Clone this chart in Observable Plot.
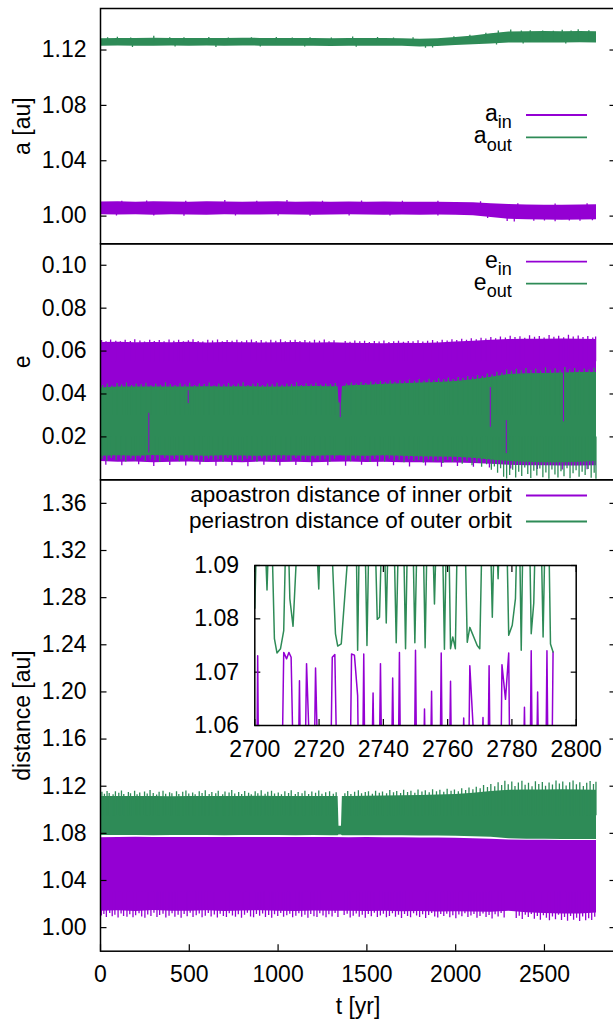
<!DOCTYPE html>
<html><head><meta charset="utf-8">
<script src="https://cdn.jsdelivr.net/npm/d3@7"></script>
<script src="https://cdn.jsdelivr.net/npm/@observablehq/plot@0.6"></script>
<style>
html,body{margin:0;padding:0;background:#fff;}
#wrap{position:relative;width:613px;height:1020px;overflow:hidden;background:#fff;}
#wrap > div{position:absolute;left:0;}
</style></head><body><div id="wrap"></div>
<script>
const PURPLE = "#9400d3", GREEN = "#2e8b57";
const FONT = '"Liberation Sans", Arial, Helvetica, sans-serif';

// ---------- tick values & labels ----------
const xTicks = [0, 500, 1000, 1500, 2000, 2500];
const p1Ticks = [1.00, 1.04, 1.08, 1.12];
const p2Ticks = [0.02, 0.04, 0.06, 0.08, 0.10];
const p3Ticks = [1.00, 1.04, 1.08, 1.12, 1.16, 1.20, 1.24, 1.28, 1.32, 1.36];
const insetXTicks = [2700, 2720, 2740, 2760, 2780, 2800];
const insetYTicks = [1.06, 1.07, 1.08, 1.09];
const yLabels = ["a [au]", "e", "distance [au]"];
const xLabel = "t [yr]";
const legendMain = ["a", "a", "e", "e", "apoastron distance of inner orbit", "periastron distance of outer orbit"];
const legendSub = ["in", "out", "in", "out", null, null];

// ---------- panel 1: semi-major axes, bands [t, low, high] ----------
const aInBand = [[0,1.0010,1.0102],[100,1.0008,1.0103],[200,1.0009,1.0101],[300,1.0007,1.0103],[400,1.0009,1.0102],[500,1.0008,1.0101],[600,1.0007,1.0103],[700,1.0009,1.0102],[800,1.0008,1.0101],[900,1.0008,1.0102],[1000,1.0009,1.0103],[1100,1.0008,1.0101],[1200,1.0007,1.0102],[1300,1.0008,1.0101],[1400,1.0009,1.0102],[1500,1.0008,1.0101],[1600,1.0007,1.0102],[1700,1.0008,1.0101],[1800,1.0007,1.0100],[1900,1.0008,1.0100],[2000,1.0006,1.0099],[2100,1.0002,1.0096],[2200,0.9990,1.0090],[2300,0.9978,1.0084],[2400,0.9974,1.0080],[2500,0.9972,1.0079],[2600,0.9970,1.0079],[2700,0.9972,1.0080],[2793,0.9974,1.0082]];
const aOutBand = [[0,1.1228,1.1282],[100,1.1229,1.1284],[200,1.1227,1.1283],[300,1.1228,1.1285],[400,1.1229,1.1283],[500,1.1228,1.1283],[600,1.1229,1.1283],[700,1.1227,1.1284],[800,1.1229,1.1285],[900,1.1228,1.1284],[1000,1.1228,1.1283],[1100,1.1227,1.1283],[1200,1.1228,1.1283],[1300,1.1226,1.1282],[1400,1.1227,1.1283],[1500,1.1228,1.1284],[1600,1.1228,1.1283],[1700,1.1227,1.1282],[1800,1.1222,1.1277],[1900,1.1226,1.1281],[2000,1.1232,1.1290],[2100,1.1238,1.1302],[2200,1.1244,1.1318],[2300,1.1250,1.1330],[2400,1.1250,1.1332],[2500,1.1251,1.1333],[2600,1.1250,1.1332],[2700,1.1252,1.1334],[2793,1.1250,1.1332]];
const aOutTopSpikes = [[40,1.1288],[95,1.1292],[170,1.1287],[300,1.1300],[390,1.1288],[470,1.1289],[610,1.1291],[720,1.1287],[850,1.1289],[990,1.1290],[1080,1.1287],[1180,1.1289],[1300,1.1286],[1420,1.1294],[1560,1.1291],[1650,1.1287],[1760,1.1288],[1990,1.1295],[2080,1.1306],[2170,1.1322],[2240,1.1338],[2310,1.1344],[2370,1.1337],[2420,1.1340],[2490,1.1338],[2550,1.1336],[2600,1.1342],[2650,1.1337],[2690,1.1346],[2750,1.1339]];
const aOutBotSpikes = [[180,1.1218],[420,1.1221],[650,1.1219],[900,1.1222],[1150,1.1221],[1440,1.1220],[1830,1.1212],[1870,1.1214],[2230,1.1236],[2380,1.1244],[2620,1.1243]];
const aInTopSpikes = [[120,1.0108],[260,1.0110],[480,1.0108],[700,1.0112],[880,1.0108],[1050,1.0112],[1250,1.0108],[1470,1.0110],[1700,1.0108],[1900,1.0108],[2140,1.0104],[2350,1.0090],[2560,1.0088],[2740,1.0090]];
const aInBotSpikes = [[90,1.0000],[300,1.0001],[470,0.9999],[760,1.0001],[1000,1.0000],[1180,0.9999],[1400,1.0001],[1630,1.0000],[1900,1.0001],[2180,0.9982],[2290,0.9962],[2330,0.9958],[2440,0.9963],[2500,0.9965],[2560,0.9960],[2640,0.9964],[2700,0.9963],[2770,0.9966]];

// ---------- panel 2: eccentricities ----------
const eInBand = [[0,0.0085,0.0640],[100,0.0082,0.0641],[200,0.0083,0.0639],[300,0.0080,0.0640],[400,0.0082,0.0639],[500,0.0083,0.0641],[600,0.0081,0.0638],[700,0.0082,0.0640],[800,0.0080,0.0639],[900,0.0083,0.0638],[1000,0.0081,0.0639],[1100,0.0082,0.0640],[1200,0.0080,0.0638],[1300,0.0082,0.0639],[1400,0.0083,0.0636],[1500,0.0081,0.0635],[1600,0.0082,0.0634],[1700,0.0080,0.0636],[1800,0.0079,0.0635],[1900,0.0078,0.0638],[2000,0.0078,0.0642],[2100,0.0076,0.0646],[2200,0.0072,0.0650],[2300,0.0068,0.0654],[2400,0.0066,0.0655],[2500,0.0065,0.0655],[2600,0.0064,0.0656],[2700,0.0064,0.0655],[2793,0.0066,0.0654]];
const eOutBand = [[0,0.0110,0.0428],[100,0.0112,0.0432],[200,0.0110,0.0433],[300,0.0113,0.0432],[400,0.0111,0.0433],[500,0.0112,0.0432],[600,0.0110,0.0434],[700,0.0112,0.0433],[800,0.0111,0.0434],[900,0.0110,0.0433],[1000,0.0112,0.0433],[1100,0.0111,0.0434],[1200,0.0110,0.0435],[1300,0.0112,0.0434],[1338,0.0111,0.0434],[1343,0.0112,0.0358],[1357,0.0112,0.0358],[1362,0.0111,0.0435],[1400,0.0111,0.0438],[1500,0.0110,0.0441],[1600,0.0112,0.0445],[1700,0.0110,0.0448],[1800,0.0108,0.0451],[1900,0.0106,0.0454],[2000,0.0105,0.0458],[2100,0.0100,0.0466],[2200,0.0092,0.0478],[2300,0.0085,0.0491],[2400,0.0082,0.0494],[2500,0.0080,0.0496],[2600,0.0080,0.0498],[2700,0.0082,0.0500],[2793,0.0085,0.0500]];
const eInTopSpikes = [[6,0.0649],[31,0.0644],[57,0.0652],[86,0.0646],[112,0.0643],[139,0.0650],[168,0.0645],[193,0.0653],[222,0.0647],[248,0.0642],[277,0.0651],[303,0.0645],[331,0.0649],[358,0.0643],[386,0.0652],[413,0.0646],[440,0.0650],[467,0.0644],[495,0.0648],[521,0.0653],[550,0.0645],[576,0.0642],[604,0.0650],[631,0.0647],[659,0.0652],[686,0.0644],[713,0.0649],[741,0.0646],[768,0.0651],[795,0.0643],[823,0.0648],[850,0.0652],[877,0.0645],[905,0.0649],[932,0.0642],[959,0.0650],[987,0.0646],[1014,0.0653],[1041,0.0644],[1069,0.0648],[1096,0.0651],[1123,0.0645],[1151,0.0649],[1178,0.0643],[1205,0.0650],[1233,0.0646],[1260,0.0652],[1287,0.0644],[1315,0.0648],[1378,0.0645],[1405,0.0641],[1432,0.0647],[1460,0.0643],[1487,0.0646],[1514,0.0640],[1542,0.0645],[1569,0.0642],[1596,0.0647],[1624,0.0640],[1651,0.0644],[1678,0.0646],[1706,0.0641],[1733,0.0645],[1760,0.0643],[1788,0.0648],[1815,0.0642],[1842,0.0646],[1870,0.0649],[1897,0.0644],[1924,0.0650],[1952,0.0647],[1979,0.0653],[2006,0.0649],[2034,0.0655],[2061,0.0651],[2088,0.0657],[2116,0.0653],[2143,0.0660],[2170,0.0656],[2198,0.0663],[2225,0.0658],[2252,0.0666],[2280,0.0661],[2307,0.0669],[2334,0.0663],[2362,0.0667],[2389,0.0660],[2416,0.0671],[2444,0.0664],[2471,0.0668],[2498,0.0661],[2526,0.0673],[2553,0.0665],[2580,0.0669],[2608,0.0662],[2635,0.0674],[2662,0.0666],[2690,0.0670],[2717,0.0663],[2744,0.0668],[2772,0.0661],[2788,0.0666]];
const eInBotSpikes = [[30,0.0068],[120,0.0065],[215,0.0070],[300,0.0062],[390,0.0067],[480,0.0064],[560,0.0069],[650,0.0063],[740,0.0066],[830,0.0061],[920,0.0068],[1010,0.0064],[1100,0.0067],[1190,0.0062],[1280,0.0066],[1380,0.0063],[1470,0.0068],[1560,0.0061],[1650,0.0065],[1740,0.0060],[1830,0.0064],[1920,0.0059],[2010,0.0062],[2100,0.0058],[2190,0.0055],[2310,0.0050],[2460,0.0048],[2600,0.0046],[2740,0.0047]];
const eOutTopSpikes = [[12,0.0440],[38,0.0446],[64,0.0437],[93,0.0449],[119,0.0442],[146,0.0451],[175,0.0439],[201,0.0447],[229,0.0443],[256,0.0450],[284,0.0438],[311,0.0446],[338,0.0441],[366,0.0452],[393,0.0444],[420,0.0439],[448,0.0448],[475,0.0442],[502,0.0450],[530,0.0440],[557,0.0447],[584,0.0444],[612,0.0451],[639,0.0438],[666,0.0446],[694,0.0442],[721,0.0449],[748,0.0441],[776,0.0447],[803,0.0452],[830,0.0440],[858,0.0445],[885,0.0449],[912,0.0439],[940,0.0446],[967,0.0443],[994,0.0450],[1022,0.0441],[1049,0.0447],[1076,0.0444],[1104,0.0452],[1131,0.0440],[1158,0.0448],[1186,0.0443],[1213,0.0450],[1240,0.0442],[1268,0.0447],[1295,0.0444],[1322,0.0449],[1385,0.0446],[1412,0.0451],[1440,0.0447],[1467,0.0454],[1494,0.0449],[1522,0.0456],[1549,0.0451],[1576,0.0458],[1604,0.0452],[1631,0.0461],[1658,0.0455],[1686,0.0463],[1713,0.0457],[1740,0.0465],[1768,0.0459],[1795,0.0467],[1822,0.0461],[1850,0.0469],[1877,0.0463],[1904,0.0471],[1932,0.0466],[1959,0.0474],[1986,0.0468],[2014,0.0477],[2041,0.0472],[2068,0.0481],[2096,0.0476],[2123,0.0486],[2150,0.0482],[2178,0.0493],[2205,0.0489],[2232,0.0501],[2260,0.0497],[2287,0.0512],[2314,0.0506],[2342,0.0515],[2369,0.0508],[2396,0.0519],[2424,0.0510],[2451,0.0516],[2478,0.0507],[2506,0.0521],[2533,0.0511],[2560,0.0518],[2588,0.0509],[2615,0.0523],[2642,0.0513],[2670,0.0519],[2697,0.0510],[2724,0.0517],[2752,0.0512],[2779,0.0520]];
const eOutBotSpikes = [[9,0.0095],[35,0.0086],[61,0.0099],[88,0.0089],[116,0.0093],[142,0.0083],[171,0.0097],[197,0.0088],[225,0.0101],[252,0.0085],[280,0.0094],[307,0.0090],[333,0.0082],[362,0.0098],[389,0.0087],[416,0.0095],[444,0.0084],[471,0.0092],[498,0.0100],[526,0.0086],[553,0.0091],[580,0.0083],[608,0.0097],[635,0.0089],[662,0.0094],[690,0.0082],[717,0.0099],[744,0.0087],[772,0.0092],[799,0.0085],[826,0.0096],[854,0.0090],[881,0.0083],[908,0.0098],[936,0.0088],[963,0.0093],[990,0.0081],[1018,0.0096],[1045,0.0089],[1072,0.0085],[1100,0.0099],[1127,0.0087],[1154,0.0092],[1182,0.0083],[1209,0.0097],[1236,0.0088],[1264,0.0094],[1291,0.0082],[1318,0.0096],[1381,0.0090],[1408,0.0084],[1436,0.0097],[1463,0.0087],[1490,0.0093],[1518,0.0081],[1545,0.0095],[1572,0.0088],[1600,0.0083],[1627,0.0096],[1654,0.0086],[1682,0.0091],[1709,0.0080],[1736,0.0094],[1764,0.0085],[1791,0.0089],[1818,0.0078],[1846,0.0092],[1873,0.0083],[1900,0.0088],[1928,0.0076],[1955,0.0090],[1982,0.0081],[2010,0.0086],[2037,0.0072],[2064,0.0084],[2092,0.0066],[2119,0.0078],[2146,0.0058],[2174,0.0070],[2201,0.0045],[2218,0.0060],[2236,0.0030],[2253,0.0052],[2270,0.0012],[2287,0.0004],[2304,0.0020],[2321,0.0045],[2338,0.0008],[2355,0.0035],[2372,0.0015],[2389,0.0055],[2406,0.0025],[2423,0.0006],[2440,0.0040],[2457,0.0018],[2474,0.0050],[2491,0.0010],[2508,0.0032],[2525,0.0003],[2542,0.0046],[2559,0.0022],[2576,0.0008],[2593,0.0038],[2610,0.0014],[2627,0.0052],[2644,0.0005],[2661,0.0028],[2678,0.0042],[2695,0.0012],[2712,0.0035],[2729,0.0020],[2746,0.0048],[2763,0.0007],[2780,0.0030],[2790,0.0002]];
const eInThroughOut = [[272,0.0125,0.0310],[494,0.0355,0.0415],[1350,0.0290,0.0360],[2195,0.0245,0.0430],[2285,0.0122,0.0276],[2607,0.0270,0.0510]];

// ---------- panel 3: apoastron / periastron distances ----------
const apoBand = [[0,1.0140,1.0763],[100,1.0143,1.0765],[200,1.0137,1.0766],[300,1.0145,1.0764],[400,1.0140,1.0765],[500,1.0139,1.0764],[600,1.0143,1.0765],[700,1.0137,1.0764],[800,1.0141,1.0765],[900,1.0143,1.0764],[1000,1.0139,1.0764],[1100,1.0137,1.0765],[1200,1.0141,1.0764],[1300,1.0139,1.0764],[1400,1.0140,1.0763],[1500,1.0137,1.0764],[1600,1.0139,1.0763],[1700,1.0135,1.0762],[1800,1.0137,1.0761],[1900,1.0133,1.0760],[2000,1.0135,1.0758],[2100,1.0133,1.0755],[2200,1.0130,1.0750],[2300,1.0140,1.0744],[2400,1.0127,1.0742],[2500,1.0120,1.0741],[2600,1.0115,1.0740],[2700,1.0115,1.0740],[2793,1.0125,1.0739]];
const periBand = [[0,1.0782,1.1112],[100,1.0781,1.1113],[200,1.0782,1.1112],[300,1.0780,1.1113],[400,1.0782,1.1111],[500,1.0781,1.1112],[600,1.0782,1.1113],[700,1.0780,1.1112],[800,1.0781,1.1113],[900,1.0782,1.1114],[1000,1.0781,1.1113],[1100,1.0780,1.1112],[1200,1.0781,1.1113],[1300,1.0780,1.1112],[1338,1.0780,1.1112],[1343,1.0785,1.0860],[1357,1.0785,1.0860],[1362,1.0780,1.1112],[1400,1.0780,1.1113],[1500,1.0780,1.1115],[1600,1.0779,1.1116],[1700,1.0779,1.1119],[1800,1.0778,1.1122],[1900,1.0778,1.1125],[2000,1.0776,1.1130],[2100,1.0772,1.1140],[2200,1.0766,1.1155],[2300,1.0754,1.1165],[2400,1.0750,1.1168],[2500,1.0749,1.1168],[2600,1.0748,1.1170],[2700,1.0748,1.1168],[2793,1.0748,1.1165]];
const apoBotSpikes = [[5,1.0098],[19,1.0112],[33,1.0085],[52,1.0120],[66,1.0092],[81,1.0105],[99,1.0081],[116,1.0116],[130,1.0095],[149,1.0088],[165,1.0110],[183,1.0083],[198,1.0101],[217,1.0118],[232,1.0090],[250,1.0079],[266,1.0108],[284,1.0094],[301,1.0121],[318,1.0086],[333,1.0103],[352,1.0113],[368,1.0082],[386,1.0097],[403,1.0117],[419,1.0089],[437,1.0106],[454,1.0080],[471,1.0111],[488,1.0093],[505,1.0122],[521,1.0087],[539,1.0100],[556,1.0115],[572,1.0084],[590,1.0096],[607,1.0119],[623,1.0090],[641,1.0107],[658,1.0081],[674,1.0113],[692,1.0095],[709,1.0085],[725,1.0118],[743,1.0099],[760,1.0088],[776,1.0110],[794,1.0079],[811,1.0104],[827,1.0121],[845,1.0091],[862,1.0083],[878,1.0112],[896,1.0097],[913,1.0116],[929,1.0086],[947,1.0102],[964,1.0080],[980,1.0109],[998,1.0094],[1015,1.0120],[1031,1.0088],[1049,1.0101],[1066,1.0114],[1082,1.0083],[1100,1.0096],[1117,1.0118],[1133,1.0089],[1151,1.0106],[1168,1.0079],[1184,1.0112],[1202,1.0093],[1219,1.0087],[1235,1.0117],[1253,1.0098],[1270,1.0084],[1286,1.0110],[1304,1.0091],[1321,1.0119],[1337,1.0085],[1372,1.0103],[1389,1.0113],[1406,1.0082],[1423,1.0097],[1440,1.0116],[1457,1.0088],[1474,1.0105],[1491,1.0080],[1508,1.0111],[1525,1.0092],[1542,1.0121],[1559,1.0086],[1576,1.0099],[1593,1.0114],[1610,1.0083],[1627,1.0095],[1644,1.0118],[1661,1.0089],[1678,1.0106],[1695,1.0078],[1712,1.0112],[1729,1.0094],[1746,1.0084],[1763,1.0117],[1780,1.0098],[1797,1.0086],[1814,1.0109],[1831,1.0077],[1848,1.0103],[1865,1.0120],[1882,1.0090],[1899,1.0081],[1916,1.0111],[1933,1.0095],[1950,1.0114],[1967,1.0084],[1984,1.0100],[2001,1.0076],[2018,1.0108],[2035,1.0093],[2052,1.0118],[2069,1.0085],[2086,1.0098],[2103,1.0112],[2120,1.0079],[2137,1.0094],[2154,1.0115],[2171,1.0086],[2188,1.0103],[2205,1.0074],[2222,1.0109],[2239,1.0090],[2256,1.0120],[2273,1.0082],[2341,1.0078],[2358,1.0096],[2375,1.0068],[2392,1.0105],[2409,1.0086],[2426,1.0112],[2443,1.0071],[2460,1.0094],[2477,1.0062],[2494,1.0101],[2511,1.0079],[2528,1.0058],[2545,1.0090],[2562,1.0066],[2579,1.0104],[2596,1.0060],[2613,1.0085],[2630,1.0055],[2647,1.0095],[2664,1.0063],[2681,1.0080],[2698,1.0052],[2715,1.0091],[2732,1.0058],[2749,1.0075],[2766,1.0061],[2783,1.0088]];
const periTopSpikes = [[8,1.1148],[22,1.1131],[37,1.1156],[49,1.1138],[71,1.1127],[84,1.1152],[103,1.1141],[118,1.1160],[131,1.1129],[157,1.1146],[169,1.1135],[192,1.1158],[206,1.1128],[221,1.1143],[248,1.1151],[263,1.1133],[279,1.1163],[297,1.1139],[316,1.1126],[330,1.1149],[352,1.1157],[367,1.1131],[389,1.1145],[402,1.1137],[428,1.1154],[441,1.1129],[463,1.1148],[481,1.1160],[497,1.1134],[519,1.1142],[533,1.1127],[556,1.1153],[572,1.1138],[590,1.1161],[612,1.1130],[627,1.1147],[649,1.1136],[663,1.1158],[688,1.1128],[701,1.1150],[724,1.1142],[739,1.1164],[756,1.1133],[778,1.1146],[795,1.1129],[812,1.1155],[834,1.1140],[849,1.1127],[871,1.1152],[886,1.1137],[905,1.1161],[927,1.1131],[942,1.1149],[963,1.1158],[980,1.1134],[1001,1.1143],[1019,1.1128],[1038,1.1154],[1059,1.1139],[1074,1.1162],[1097,1.1130],[1113,1.1147],[1135,1.1136],[1151,1.1157],[1172,1.1129],[1190,1.1150],[1211,1.1141],[1229,1.1160],[1247,1.1132],[1268,1.1145],[1290,1.1152],[1311,1.1131],[1327,1.1144],[1376,1.1137],[1392,1.1155],[1410,1.1130],[1431,1.1148],[1452,1.1161],[1470,1.1135],[1491,1.1146],[1509,1.1153],[1531,1.1132],[1549,1.1158],[1570,1.1141],[1588,1.1150],[1611,1.1136],[1629,1.1163],[1650,1.1144],[1668,1.1155],[1690,1.1138],[1707,1.1166],[1729,1.1147],[1748,1.1157],[1770,1.1140],[1788,1.1168],[1810,1.1150],[1829,1.1162],[1851,1.1144],[1870,1.1171],[1892,1.1153],[1911,1.1165],[1933,1.1148],[1952,1.1174],[1974,1.1158],[1993,1.1168],[2015,1.1152],[2034,1.1179],[2056,1.1163],[2075,1.1185],[2097,1.1170],[2116,1.1192],[2138,1.1178],[2157,1.1205],[2179,1.1188],[2198,1.1215],[2220,1.1196],[2239,1.1230],[2259,1.1205],[2277,1.1242],[2296,1.1212],[2316,1.1236],[2334,1.1198],[2353,1.1228],[2373,1.1243],[2391,1.1208],[2410,1.1225],[2430,1.1195],[2449,1.1238],[2468,1.1214],[2488,1.1232],[2506,1.1200],[2526,1.1227],[2545,1.1210],[2565,1.1244],[2584,1.1218],[2603,1.1235],[2622,1.1202],[2642,1.1229],[2661,1.1245],[2680,1.1212],[2699,1.1230],[2719,1.1198],[2738,1.1226],[2757,1.1240],[2776,1.1215],[2790,1.1234]];

// ---------- inset (2700-2800 yr) ----------
const insetPeri = [[2700.0,1.0820],[2700.7,1.0990],[2701.8,1.1040],[2702.9,1.1000],[2703.8,1.0854],[2704.5,1.0990],[2705.3,1.0960],[2706.1,1.0763],[2706.9,1.0736],[2708.0,1.0744],[2709.0,1.0778],[2709.8,1.1000],[2710.4,1.0960],[2710.9,1.0838],[2711.9,1.0786],[2713.3,1.0960],[2714.5,1.1040],[2716.0,1.1020],[2717.5,1.1050],[2719.1,1.0960],[2719.9,1.0856],[2720.5,1.0990],[2722.0,1.1040],[2723.6,1.0990],[2725.1,1.0772],[2725.8,1.0749],[2726.9,1.0753],[2729.2,1.0940],[2730.6,1.1020],[2731.5,1.0980],[2732.0,1.0741],[2732.6,1.0990],[2734.2,1.0990],[2734.9,1.0750],[2735.6,1.0990],[2737.3,1.0990],[2738.1,1.0799],[2738.8,1.0803],[2739.6,1.0990],[2740.2,1.0990],[2740.9,1.0792],[2741.6,1.0990],[2743.2,1.0990],[2744.0,1.0755],[2744.8,1.0990],[2746.2,1.0990],[2746.9,1.0744],[2747.6,1.0990],[2749.1,1.0990],[2749.8,1.0755],[2750.6,1.0990],[2752.3,1.0990],[2753.0,1.0746],[2753.7,1.0990],[2755.2,1.0990],[2755.9,1.0828],[2756.6,1.0990],[2758.3,1.0990],[2759.0,1.0743],[2759.7,1.0990],[2760.3,1.0990],[2760.9,1.0744],[2761.6,1.0766],[2762.4,1.0744],[2763.1,1.0990],[2765.3,1.0990],[2766.1,1.0756],[2766.9,1.0784],[2769.2,1.0750],[2770.0,1.0744],[2770.8,1.0990],[2773.2,1.0990],[2773.9,1.0803],[2774.6,1.0990],[2775.2,1.0960],[2775.7,1.0875],[2776.3,1.0990],[2778.3,1.0990],[2779.0,1.0769],[2780.1,1.0788],[2781.1,1.0838],[2781.7,1.0990],[2782.3,1.0990],[2782.9,1.0741],[2783.5,1.0990],[2785.4,1.0990],[2786.0,1.0772],[2786.8,1.0830],[2787.4,1.0990],[2789.0,1.0990],[2789.7,1.0766],[2790.4,1.0990],[2791.4,1.0990],[2792.0,1.0753],[2792.8,1.0738]];
const insetApo = [[2700.0,1.0450],[2700.5,1.0420],[2700.9,1.0731],[2701.3,1.0400],[2702.5,1.0350],[2704.0,1.0300],[2705.5,1.0380],[2707.0,1.0320],[2708.2,1.0400],[2709.0,1.0737],[2709.9,1.0725],[2710.6,1.0737],[2711.3,1.0728],[2712.4,1.0400],[2713.4,1.0450],[2713.9,1.0684],[2714.4,1.0420],[2715.5,1.0450],[2716.1,1.0716],[2717.6,1.0450],[2718.4,1.0480],[2718.9,1.0708],[2719.9,1.0450],[2721.0,1.0350],[2722.5,1.0380],[2723.4,1.0420],[2724.1,1.0728],[2724.9,1.0733],[2725.9,1.0400],[2727.0,1.0350],[2728.5,1.0300],[2729.5,1.0420],[2730.1,1.0734],[2731.0,1.0732],[2732.0,1.0656],[2732.5,1.0400],[2733.4,1.0420],[2733.9,1.0734],[2734.4,1.0420],[2736.2,1.0450],[2736.8,1.0661],[2737.3,1.0450],[2738.6,1.0450],[2739.1,1.0716],[2739.7,1.0420],[2741.5,1.0400],[2742.4,1.0450],[2742.9,1.0689],[2743.5,1.0420],[2744.5,1.0420],[2745.0,1.0737],[2745.5,1.0420],[2747.0,1.0350],[2748.5,1.0380],[2749.5,1.0420],[2750.0,1.0741],[2750.5,1.0420],[2752.3,1.0450],[2752.8,1.0631],[2753.3,1.0450],[2754.5,1.0450],[2755.0,1.0664],[2755.5,1.0420],[2757.5,1.0420],[2758.0,1.0736],[2758.5,1.0420],[2760.4,1.0450],[2760.9,1.0683],[2761.4,1.0420],[2764.5,1.0480],[2765.0,1.0614],[2765.5,1.0480],[2766.4,1.0450],[2766.9,1.0712],[2768.8,1.0500],[2770.5,1.0480],[2771.0,1.0615],[2771.5,1.0480],[2772.4,1.0450],[2772.9,1.0712],[2773.4,1.0420],[2776.4,1.0420],[2776.9,1.0714],[2778.0,1.0649],[2779.0,1.0736],[2779.5,1.0420],[2783.4,1.0450],[2783.9,1.0634],[2784.4,1.0450],[2785.5,1.0420],[2786.0,1.0740],[2786.5,1.0420],[2787.5,1.0450],[2788.0,1.0663],[2788.5,1.0450],[2790.4,1.0420],[2790.9,1.0740],[2791.4,1.0420],[2792.3,1.0420],[2792.8,1.0738]];

// ---------- helpers ----------
const STYLE = {fontFamily: FONT, fontSize: "23px", color: "black", background: "transparent", overflow: "visible", maxWidth: "none"};
const f2 = d3.format(".2f");
const fInt = d3.format("d");
const band = (data, fill) => Plot.areaY(data, {x: d => d[0], y1: d => d[1], y2: d => d[2], fill, clip: true});
const spikes = (data, base, stroke) => Plot.ruleX(data, {x: d => d[0], y1: base, y2: d => d[1], stroke, strokeWidth: 1.3, clip: true});

function yAxes(ticks, fmt, pad, len) {
  return [
    Plot.axisY({ticks, anchor: "left", tickSize: 0, tickPadding: pad, tickFormat: fmt, fontSize: 23, label: null}),
    Plot.axisY({ticks, anchor: "left", tickSize: len, dx: len, fill: "none", label: null, strokeWidth: 1.2}),
    Plot.axisY({ticks, anchor: "right", tickSize: len, dx: -len, fill: "none", label: null, strokeWidth: 1.2})
  ];
}
const yTitle = (label) => Plot.text([label], {frameAnchor: "left", dx: -78, rotate: -90, fontSize: 23, text: d => d, textAnchor: "middle", lineAnchor: "middle"});
const frameLine = () => Plot.frame({stroke: "black", strokeWidth: 1.5});

function place(svg, top) {
  const div = document.createElement("div");
  div.style.top = top + "px";
  div.style.width = svg.getAttribute("width") + "px";
  div.appendChild(svg);
  document.getElementById("wrap").appendChild(div);
}

// ---------- panel 1 ----------
place(Plot.plot({
  width: 615, height: 244, marginLeft: 100, marginRight: 0, marginTop: 8, marginBottom: 0.7,
  style: STYLE,
  x: {domain: [0, 2900], axis: null},
  y: {domain: [0.98, 1.15]},
  marks: [
    band(aInBand, PURPLE),
    spikes(aInTopSpikes, 1.004, PURPLE),
    spikes(aInBotSpikes, 1.004, PURPLE),
    band(aOutBand, GREEN),
    spikes(aOutTopSpikes, 1.1255, GREEN),
    spikes(aOutBotSpikes, 1.1255, GREEN),
    ...yAxes(p1Ticks, f2, 14, 6.5),
    yTitle(yLabels[0]),
    frameLine()
  ]
}), 0);

// ---------- panel 2 ----------
place(Plot.plot({
  width: 615, height: 240, marginLeft: 100, marginRight: 0, marginTop: 3.3, marginBottom: 0.7,
  style: STYLE,
  x: {domain: [0, 2900], axis: null},
  y: {domain: [0, 0.11]},
  marks: [
    band(eInBand, PURPLE),
    spikes(eInTopSpikes, 0.055, PURPLE),
    spikes(eInBotSpikes, 0.0095, PURPLE),
    band(eOutBand, GREEN),
    spikes(eOutTopSpikes, 0.03, GREEN),
    spikes(eOutBotSpikes, 0.02, GREEN),
    Plot.ruleX(eInThroughOut, {x: d => d[0], y1: d => d[1], y2: d => d[2], stroke: PURPLE, strokeWidth: 1, clip: true}),
    ...yAxes(p2Ticks, f2, 14, 6.5),
    yTitle(yLabels[1]),
    frameLine()
  ]
}), 240);

// ---------- panel 3 ----------
place(Plot.plot({
  width: 615, height: 544, marginLeft: 100, marginRight: 0, marginTop: 3.3, marginBottom: 69.3,
  style: STYLE,
  x: {domain: [0, 2900]},
  y: {domain: [0.98, 1.38]},
  marks: [
    band(apoBand, PURPLE),
    spikes(apoBotSpikes, 1.03, PURPLE),
    band(periBand, GREEN),
    spikes(periTopSpikes, 1.095, GREEN),
    ...yAxes(p3Ticks, f2, 14, 6.5),
    Plot.axisX({ticks: xTicks, anchor: "bottom", tickSize: 0, tickPadding: 14.5, tickFormat: fInt, fontSize: 23, label: null}),
    Plot.axisX({ticks: xTicks, anchor: "bottom", tickSize: 6.5, dy: -6.5, fill: "none", label: null, strokeWidth: 1.2}),
    yTitle(yLabels[2]),
    Plot.text([xLabel], {frameAnchor: "bottom", dy: 55.4, lineAnchor: "middle", fontSize: 23, text: d => d}),
    frameLine()
  ]
}), 476);

// ---------- inset ----------
place(Plot.plot({
  width: 613, height: 220, marginLeft: 254.3, marginRight: 37.3, marginTop: 25, marginBottom: 35,
  style: STYLE,
  x: {domain: [2700, 2800]},
  y: {domain: [1.06, 1.09]},
  marks: [
    Plot.frame({fill: "white", stroke: null}),
    Plot.axisY({ticks: insetYTicks, anchor: "left", tickSize: 0, tickPadding: 15.8, tickFormat: f2, fontSize: 23, label: null}),
    Plot.axisX({ticks: insetXTicks, anchor: "bottom", tickSize: 0, tickPadding: 15, tickFormat: fInt, fontSize: 23, label: null}),
    Plot.axisY({ticks: insetYTicks, anchor: "left", tickSize: 6, dx: 6, fill: "none", label: null, strokeWidth: 1.2}),
    Plot.axisY({ticks: insetYTicks, anchor: "right", tickSize: 6, dx: -6, fill: "none", label: null, strokeWidth: 1.2}),
    Plot.axisX({ticks: insetXTicks, anchor: "bottom", tickSize: 6, dy: -6, fill: "none", label: null, strokeWidth: 1.2}),
    Plot.axisX({ticks: insetXTicks, anchor: "top", tickSize: 6, dy: 6, fill: "none", label: null, strokeWidth: 1.2}),
    Plot.line(insetApo, {x: d => d[0], y: d => d[1], stroke: PURPLE, strokeWidth: 1.5, clip: true}),
    Plot.line(insetPeri, {x: d => d[0], y: d => d[1], stroke: GREEN, strokeWidth: 1.5, clip: true}),
    Plot.frame({stroke: "black", strokeWidth: 1.5})
  ]
}), 540);

// ---------- legends ----------
const legendY = [115, 137.3, 261.7, 283.7, 495.5, 521.5];
const legendSize = [23, 23, 23, 23, 22.5, 22.5];
const legendColor = [PURPLE, GREEN, PURPLE, GREEN, PURPLE, GREEN];
const leg = d3.select("#wrap").append("svg")
  .attr("width", 613).attr("height", 1020)
  .style("position", "absolute").style("left", "0px").style("top", "0px")
  .style("pointer-events", "none");
legendMain.forEach((m, i) => {
  const t = leg.append("text")
    .attr("x", 511.7).attr("y", legendY[i] + 6)
    .attr("text-anchor", "end").attr("font-family", FONT).attr("font-size", legendSize[i]).attr("fill", "black");
  t.append("tspan").text(m);
  if (legendSub[i]) t.append("tspan").attr("font-size", 18).attr("dy", 7.3).text(legendSub[i]);
  leg.append("line")
    .attr("x1", 526).attr("x2", 587).attr("y1", legendY[i]).attr("y2", legendY[i])
    .attr("stroke", legendColor[i]).attr("stroke-width", 1.8);
});
</script></body></html>
